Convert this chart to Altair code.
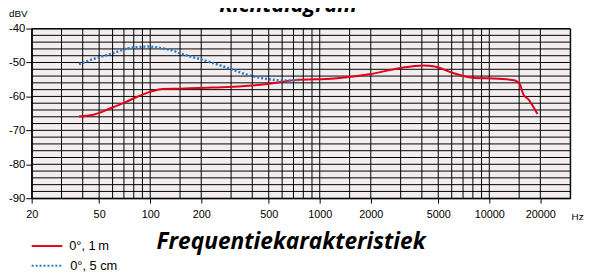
import altair as alt
import pandas as pd

# ---- data ----
freq_1m = [38, 46, 59, 70, 84, 101, 118, 150, 235, 459, 718, 1224, 2000, 3000,
           4080, 4770, 6090, 7960, 11370, 14200, 15170, 15870, 16970, 19230]
db_1m = [-65.9, -65.4, -63.4, -61.9, -60.1, -58.6, -57.8, -57.7, -57.4, -56.5,
         -55.2, -54.7, -53.4, -51.6, -50.9, -51.2, -53.1, -54.5, -54.8, -55.3,
         -56.5, -59.4, -60.8, -65.2]

freq_5cm = [38, 49.5, 61.8, 73.9, 88.3, 96.5, 110, 138, 150, 197, 294, 367,
            480, 628, 767]
db_5cm = [-50.5, -48.5, -47.1, -45.8, -45.4, -45.3, -45.6, -46.6, -47.3, -49.0,
          -51.8, -53.5, -54.8, -55.3, -55.1]

series_names = ["0°, 1\u2009m", "0°, 5 cm"]
series_colors = ["#e2001a", "#2a7bc4"]

grid_freqs = [20, 30, 40, 50, 60, 70, 80, 90,
              100, 150, 200, 300, 400, 500, 600, 700, 800, 900,
              1000, 1500, 2000, 3000, 4000, 5000, 6000, 7000, 8000, 9000,
              10000, 15000, 20000, 30000]
grid_levels = list(range(-90, -38, 2))
x_tick_labels = [20, 50, 100, 200, 500, 1000, 2000, 5000, 10000, 20000]
y_tick_labels = [-90, -80, -70, -60, -50, -40]

chart_title = "Frequentiekarakteristiek"
top_title = "Richtdiagram"

# ---- layout ----
W, H = 546, 172
PAD = {"left": 24, "top": 19, "right": 15, "bottom": 76}
LABEL_FONT = "Liberation Sans"
GRID_COLOR = "#000000"

xs = alt.Scale(type="log", domain=[20, 30000], nice=False)
ys = alt.Scale(domain=[-90, -40], nice=False)

xaxis = alt.Axis(values=x_tick_labels, labelExpr="'' + datum.value", title="Hz",
                 titleX=553, titleY=19, titleAlign="center", titleBaseline="middle",
                 titleFont=LABEL_FONT, titleFontSize=10, titleFontWeight="normal",
                 titleColor="black", grid=False, tickSize=5, tickColor="black",
                 domainColor="black", labelFont=LABEL_FONT, labelFontSize=11,
                 labelColor="black", labelPadding=6, labelFlush=False,
                 labelOverlap=False)
yaxis = alt.Axis(values=y_tick_labels, labelExpr="'' + datum.value", title="dBV",
                 titleAngle=0, titleX=-14, titleY=-15, titleAlign="center",
                 titleBaseline="middle", titleFont=LABEL_FONT, titleFontSize=10,
                 titleFontWeight="normal", titleColor="black", grid=False,
                 tickSize=6, tickColor="black", domainColor="black",
                 labelFont=LABEL_FONT, labelFontSize=11.5, labelColor="black",
                 labelPadding=1)

vgrid = alt.Chart(pd.DataFrame({"f": grid_freqs})).mark_rule(
    color=GRID_COLOR, strokeWidth=1).encode(
    x=alt.X("f:Q", scale=xs, axis=xaxis), y=alt.value(0), y2=alt.value(H))

hgrid = alt.Chart(pd.DataFrame({"db": grid_levels})).mark_rule(
    color=GRID_COLOR, strokeWidth=1).encode(
    y=alt.Y("db:Q", scale=ys, axis=yaxis), x=alt.value(0), x2=alt.value(W))

df1 = pd.DataFrame({"f": freq_1m, "db": db_1m})
df2 = pd.DataFrame({"f": freq_5cm, "db": db_5cm})

line1 = alt.Chart(df1).mark_line(color=series_colors[0], strokeWidth=2,
                                 interpolate="monotone").encode(
    x=alt.X("f:Q", scale=xs, axis=xaxis), y=alt.Y("db:Q", scale=ys, axis=yaxis))
line2 = alt.Chart(df2).mark_line(color=series_colors[1], strokeWidth=2.5,
                                 strokeDash=[2, 2], interpolate="monotone").encode(
    x=alt.X("f:Q", scale=xs, axis=xaxis), y=alt.Y("db:Q", scale=ys, axis=yaxis))

# manual legend at bottom left
leg_y = [220.5, 240.5]
leg1_rule = alt.Chart(pd.DataFrame({"a": [0]})).mark_rule(
    color=series_colors[0], strokeWidth=2).encode(
    x=alt.value(0), x2=alt.value(31), y=alt.value(leg_y[0]))
leg2_rule = alt.Chart(pd.DataFrame({"a": [0]})).mark_rule(
    color=series_colors[1], strokeWidth=2, strokeDash=[2, 2]).encode(
    x=alt.value(0), x2=alt.value(31), y=alt.value(leg_y[1]))
leg_text1 = alt.Chart(pd.DataFrame({"t": [series_names[0]]})).mark_text(
    font=LABEL_FONT, fontSize=13, align="left", baseline="middle", color="black").encode(
    text="t:N", x=alt.value(38), y=alt.value(leg_y[0]))
leg_text2 = alt.Chart(pd.DataFrame({"t": [series_names[1]]})).mark_text(
    font=LABEL_FONT, fontSize=13, align="left", baseline="middle", color="black").encode(
    text="t:N", x=alt.value(39), y=alt.value(leg_y[1]))

bottom_title = alt.Chart(pd.DataFrame({"t": [chart_title]})).mark_text(
    font="Open Sans", fontSize=23, fontWeight="bold", fontStyle="italic",
    align="center", baseline="alphabetic", color="black").encode(
    text="t:N", x=alt.value(263), y=alt.value(223))

upper_title = alt.Chart(pd.DataFrame({"t": [top_title]})).mark_text(
    font="Open Sans", fontSize=22, fontWeight="bold", fontStyle="italic",
    align="center", baseline="alphabetic", color="black").encode(
    text="t:N", x=alt.value(260), y=alt.value(-17))

chart = alt.layer(
    vgrid, hgrid, line1, line2, leg1_rule, leg2_rule, leg_text1, leg_text2,
    bottom_title, upper_title
).properties(
    width=W, height=H, padding=PAD,
    autosize=alt.AutoSizeParams(type="none")
).configure_view(
    fill="#f2edef", stroke="black", strokeWidth=1
)

chart.save("out.html", embed_options={"renderer": "svg", "actions": False})
